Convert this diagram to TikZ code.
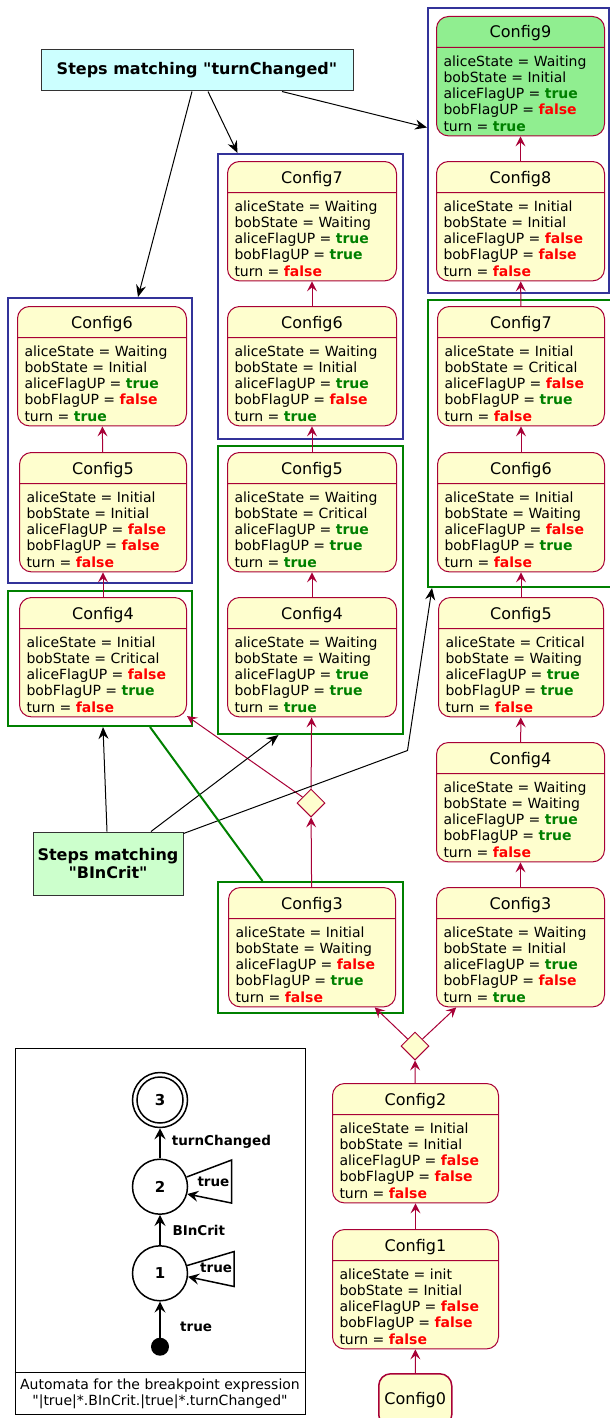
\documentclass[tikz,border=0pt]{standalone}
\usepackage{fontspec}
\setmainfont{DejaVu Sans}[Ligatures=TeXOff]
\usetikzlibrary{arrows.meta,shapes.multipart,shapes.geometric,fit}

\definecolor{cfgline}{HTML}{A80036}
\definecolor{cfgfill}{HTML}{FEFECE}
\definecolor{cfgfinal}{HTML}{90EE90}
\definecolor{grpblue}{HTML}{333399}
\definecolor{grpgreen}{HTML}{008000}
\definecolor{valtrue}{HTML}{008000}
\definecolor{valfalse}{HTML}{FF0000}
\definecolor{notecyan}{HTML}{CCFFFF}
\definecolor{notegreen}{HTML}{CCFFCC}
\definecolor{noteline}{HTML}{333333}

\newcommand{\vtrue}{\textbf{\color{valtrue}true}}
\newcommand{\vfalse}{\textbf{\color{valfalse}false}}
% title part, then the five variables
\newcommand{\cfg}[6]{\rule[-5pt]{0pt}{22pt}{\fontsize{16}{18}\selectfont#1}\nodepart{two}\rule{0pt}{14pt}aliceState = #2\\bobState = #3\\aliceFlagUP = #4\\bobFlagUP = #5\\turn = #6}

\begin{document}
\begin{tikzpicture}[x=1pt,y=-1pt]
\tikzstyle{cfgbox}=[draw=cfgline,fill=cfgfill,line width=1pt,rounded corners=12pt,anchor=north west,font=\fontsize{14}{16.3}\selectfont]
\tikzstyle{config}=[cfgbox,rectangle split,rectangle split parts=2,rectangle split part align={center,left},align=left,minimum width=168pt,inner xsep=7pt,inner ysep=4pt]
\tikzstyle{choice}=[diamond,draw=cfgline,fill=cfgfill,line width=1pt,minimum width=28pt,minimum height=28pt,inner sep=0pt]
\tikzstyle{trans}=[draw=cfgline,line width=1pt,-{Stealth[length=10pt,width=10pt,inset=4pt]}]
\tikzstyle{bluegroup}=[draw=grpblue,line width=2pt,inner sep=0pt]
\tikzstyle{greengroup}=[draw=grpgreen,line width=2pt,inner sep=0pt]
\tikzstyle{note}=[draw=noteline,line width=1pt,align=center,font=\bfseries\fontsize{16}{17.6}\selectfont]
\tikzstyle{notelink}=[draw=black,line width=1pt,-{Stealth[length=12pt,width=10pt,inset=4pt]}]
\tikzstyle{state}=[circle,draw,line width=1.5pt,minimum size=55pt,inner sep=0pt,font=\bfseries\fontsize{15}{18}\selectfont]
\tikzstyle{autoedge}=[line width=1.5pt,-{Stealth[length=11pt,width=11pt,inset=4pt]}]
\tikzstyle{autolabel}=[anchor=base west,inner sep=0pt,font=\bfseries\fontsize{13.5}{16}\selectfont]

\useasboundingbox (0,0) rectangle (610,1418);

% ========= groups
\node (br) [bluegroup, fit={(428,8) (609,293)}] {};
\node (gr) [greengroup, fit={(428,300) (612,587)}] {};
\node (bm) [bluegroup, fit={(218,154) (403,439)}] {};
\node (gm) [greengroup, fit={(218,446) (403,734)}] {};
\node (gml) [greengroup, fit={(218,882) (403,1013)}] {};
\node (bl) [bluegroup, fit={(8,298) (192,583)}] {};
\node (gl) [greengroup, fit={(8,591) (192,726)}] {};

% ========= configurations, right column
\node (c9) [config, fill=cfgfinal] at (436,16) {\cfg{Config9}{Waiting}{Initial}{\vtrue}{\vfalse}{\vtrue}};
\node (c8r) [config] at (436,161) {\cfg{Config8}{Initial}{Initial}{\vfalse}{\vfalse}{\vfalse}};
\node (c7r) [config, minimum width=167pt] at (437,306) {\cfg{Config7}{Initial}{Critical}{\vfalse}{\vtrue}{\vfalse}};
\node (c6r) [config, minimum width=167pt] at (437,452) {\cfg{Config6}{Initial}{Waiting}{\vfalse}{\vtrue}{\vfalse}};
\node (c5r) [config, minimum width=165pt] at (438,597) {\cfg{Config5}{Critical}{Waiting}{\vtrue}{\vtrue}{\vfalse}};
\node (c4r) [config] at (436,742) {\cfg{Config4}{Waiting}{Waiting}{\vtrue}{\vtrue}{\vfalse}};
\node (c3r) [config] at (436,887) {\cfg{Config3}{Waiting}{Initial}{\vtrue}{\vfalse}{\vtrue}};

% ========= middle column
\node (c7m) [config, minimum width=169pt] at (227,161) {\cfg{Config7}{Waiting}{Waiting}{\vtrue}{\vtrue}{\vfalse}};
\node (c6m) [config, minimum width=169pt] at (227,306) {\cfg{Config6}{Waiting}{Initial}{\vtrue}{\vfalse}{\vtrue}};
\node (c5m) [config, minimum width=169pt] at (227,452) {\cfg{Config5}{Waiting}{Critical}{\vtrue}{\vtrue}{\vtrue}};
\node (c4m) [config, minimum width=169pt] at (227,597) {\cfg{Config4}{Waiting}{Waiting}{\vtrue}{\vtrue}{\vtrue}};
\node (c3m) [config, minimum width=167pt] at (228,887) {\cfg{Config3}{Initial}{Waiting}{\vfalse}{\vtrue}{\vfalse}};

% ========= left column
\node (c6l) [config, minimum width=169pt] at (17,306) {\cfg{Config6}{Waiting}{Initial}{\vtrue}{\vfalse}{\vtrue}};
\node (c5l) [config, minimum width=167pt] at (19,452) {\cfg{Config5}{Initial}{Initial}{\vfalse}{\vfalse}{\vfalse}};
\node (c4l) [config, minimum width=167pt] at (19,597) {\cfg{Config4}{Initial}{Critical}{\vfalse}{\vtrue}{\vfalse}};

% ========= start of the run
\node (c2) [config, minimum width=166pt] at (332,1083) {\cfg{Config2}{Initial}{Initial}{\vfalse}{\vfalse}{\vfalse}};
\node (c1) [config, minimum width=166pt] at (332,1229) {\cfg{Config1}{init}{Initial}{\vfalse}{\vfalse}{\vfalse}};
\node (c0) [cfgbox, line width=1.5pt, minimum width=73pt, minimum height=53pt, font=\fontsize{16}{18}\selectfont] at (378,1373) {Config0};

\node (d1) [choice] at (311,803) {};
\node (d2) [choice] at (415,1046) {};

% ====== transitions
\draw [trans] (c0) -- (c1);
\draw [trans] (c1) -- (c2);
\draw [trans] (c2) -- (d2);
\draw [trans] (d2) -- (c3m);
\draw [trans] (d2) -- (c3r);
\draw [trans] (c3m) -- (d1);
\draw [trans] (d1) -- (c4m);
\draw [trans] (d1) -- (c4l);
\draw [trans] (c4l) -- (c5l);
\draw [trans] (c5l) -- (c6l);
\draw [trans] (c4m) -- (c5m);
\draw [trans] (c5m) -- (c6m);
\draw [trans] (c6m) -- (c7m);
\draw [trans] (c3r) -- (c4r);
\draw [trans] (c4r) -- (c5r);
\draw [trans] (c5r) -- (c6r);
\draw [trans] (c6r) -- (c7r);
\draw [trans] (c7r) -- (c8r);
\draw [trans] (c8r) -- (c9);

%% ===== notes
\node (tc) [note, fill=notecyan, minimum width=312pt, minimum height=41pt] at (197,70.5) {Steps matching "turnChanged"};
\node (bc) [note, fill=notegreen, minimum width=150pt, minimum height=63pt] at (108,863.5) {Steps matching\\"BInCrit"};
\draw [notelink] ([xshift=-5pt]tc.south) -- ([xshift=38pt]bl.north);
\draw [notelink] ([xshift=11pt]tc.south) -- ([xshift=-73pt]bm.north);
\draw [notelink] ([xshift=85pt]tc.south) -- ([yshift=23pt]br.west);
\draw [notelink] ([xshift=-1pt]bc.north) -- ([xshift=3pt]gl.south);
\draw [notelink] ([xshift=43pt]bc.north) -- ([xshift=-32pt]gm.south);
\draw [notelink] ([yshift=-2pt]bc.north east) -- ++(224,-83) -- ([xshift=5pt]gr.south west);
\draw [grpgreen, line width=2pt] ([xshift=50pt]gl.south) -- ([xshift=-48pt]gml.north);

% ========= automaton of the expression
\node (auto) [draw, line width=1pt, inner sep=0pt, fit={(15,1048) (305,1414)}] {};
\draw [line width=1pt] ([yshift=42pt]auto.south west) -- ([yshift=42pt]auto.south east);
\node (caption) [align=center, font=\fontsize{14}{16}\selectfont] at (160,1393.5) {Automata for the breakpoint expression\\"|true|*.BInCrit.|true|*.turnChanged"};

\node (s3) [state] at (160,1100) {3};
\draw [line width=1.5pt] (s3.center) circle (23pt);
\node (s2) [state] at (160,1186.7) {2};
\node (s1) [state] at (160,1273.3) {1};
\node (init) [circle, fill, inner sep=0pt, minimum size=18pt] at (160,1346.7) {};

\draw [autoedge] (init) -- (s1);
\draw [autoedge] (s1) -- (s2);
\draw [autoedge] (s2) -- (s3);
\draw [autoedge] (s2.20) -- ++(45,-17) -- ++(0,43) -- (s2.-15);
\draw [autoedge] (s1.16) -- ++(47,-14) -- ++(0,35) -- (s1.-7);

\node (lturn) [autolabel] at (171.7,1145) {turnChanged};
\node (lcrit) [autolabel] at (172.3,1235.7) {BInCrit};
\node (linit) [autolabel] at (180,1331.7) {true};
\node (lloop2) [autolabel] at (197.3,1186) {true};
\node (lloop1) [autolabel] at (200,1272.7) {true};
\end{tikzpicture}
\end{document}
